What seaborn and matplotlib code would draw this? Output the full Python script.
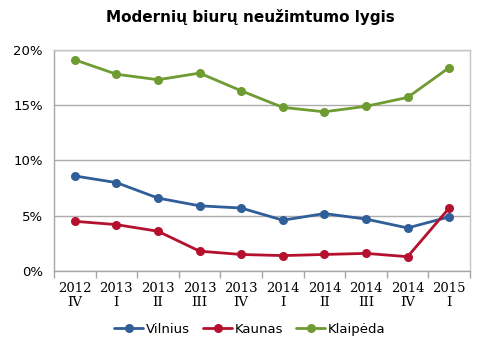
import matplotlib
matplotlib.use("Agg")
import matplotlib.pyplot as plt
import seaborn as sns
import pandas as pd
import numpy as np
from matplotlib.ticker import FixedLocator, FuncFormatter

periods = ["2012\nIV", "2013\nI", "2013\nII", "2013\nIII", "2013\nIV",
           "2014\nI", "2014\nII", "2014\nIII", "2014\nIV", "2015\nI"]
vilnius = [8.6, 8.0, 6.6, 5.9, 5.7, 4.6, 5.2, 4.7, 3.9, 4.9]
kaunas = [4.5, 4.2, 3.6, 1.8, 1.5, 1.4, 1.5, 1.6, 1.3, 5.7]
klaipeda = [19.1, 17.8, 17.3, 17.9, 16.3, 14.8, 14.4, 14.9, 15.7, 18.4]
series_names = ["Vilnius", "Kaunas", "Klaipėda"]
colors = ["#2F5E98", "#B5102E", "#6E9B32"]

rows = []
for name, vals in zip(series_names, [vilnius, kaunas, klaipeda]):
    for i, v in enumerate(vals):
        rows.append({"idx": i, "value": v, "city": name})
df = pd.DataFrame(rows)

sns.set_theme(style="white")
plt.rcParams['font.family'] = ['DejaVu Sans']
plt.rcParams['text.color'] = 'black'
plt.rcParams['xtick.color'] = 'black'
plt.rcParams['ytick.color'] = 'black'

fig = plt.figure(figsize=(5, 3.44), dpi=100)
ax = fig.add_axes([0.108, 0.212, 0.832, 0.643])

sns.lineplot(data=df, x="idx", y="value", hue="city", palette=colors,
             hue_order=series_names, marker="o", markersize=6.5,
             markeredgewidth=0, linewidth=2, ax=ax)

ax.set_xlim(-0.5, 9.5)
ax.set_ylim(0, 20)
ax.set_yticks([0, 5, 10, 15, 20])
ax.yaxis.set_major_formatter(FuncFormatter(lambda v, p: f"{int(v)}%"))
ax.yaxis.grid(True, color="#ADADAD", linewidth=1)
ax.set_axisbelow(True)

ax.set_xticks(range(len(periods)))
ax.set_xticklabels(periods, fontsize=9.5, family="DejaVu Serif", linespacing=1.05)
ax.xaxis.set_minor_locator(FixedLocator(np.arange(-0.5, 10, 1)))
ax.tick_params(axis="x", which="major", length=0, pad=8, colors="black")
ax.tick_params(axis="x", which="minor", length=5, color="#A6A6A6", width=1, direction="out", bottom=True)
ax.tick_params(axis="y", labelsize=9.5, length=0, pad=8, colors="black")

for s in ax.spines.values():
    s.set_color("#C4C4C4")
    s.set_linewidth(1)
ax.spines["left"].set_color("#A6A6A6")
ax.spines["bottom"].set_color("#A6A6A6")

ax.set_xlabel("")
ax.set_ylabel("")

fig.suptitle("Modernių biurų neužimtumo lygis", fontsize=11, fontweight="bold",
             y=0.975, color="black")

handles, labels = ax.get_legend_handles_labels()
ax.legend_.remove()
fig.legend(handles, labels, loc="center", bbox_to_anchor=(0.5, 0.042), ncol=3,
           frameon=False, fontsize=9.5, handlelength=2.2, handletextpad=0.2,
           columnspacing=1.0, labelcolor="black")

fig.savefig("out.png", dpi=100)
